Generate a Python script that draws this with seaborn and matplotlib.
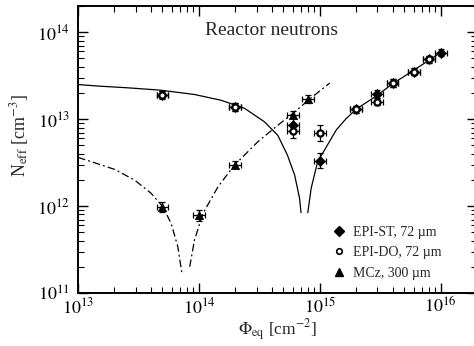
import numpy as np
import pandas as pd
import matplotlib
matplotlib.use("Agg")
import matplotlib.pyplot as plt
import seaborn as sns
from matplotlib.ticker import LogLocator, NullFormatter, FixedLocator
from matplotlib.lines import Line2D

# ---------------- data ----------------
st_phi = [5e13, 2e14, 6e14, 1e15, 2e15, 3e15, 4e15, 6e15, 8e15, 1e16]
st_neff = [1.9e13, 1.38e13, 8.5e12, 3.3e12, 1.29e13, 1.94e13, 2.6e13, 3.5e13, 4.9e13, 5.8e13]
st_yerr = [0.10, 0.10, 0.20, 0.22, 0.10, 0.10, 0.10, 0.10, 0.10, 0.10]

do_phi = [5e13, 2e14, 6e14, 1e15, 2e15, 3e15, 4e15, 6e15, 8e15]
do_neff = [1.89e13, 1.38e13, 7.3e12, 6.9e12, 1.29e13, 1.58e13, 2.6e13, 3.5e13, 4.9e13]
do_yerr = [0.10, 0.10, 0.20, 0.23, 0.10, 0.10, 0.10, 0.10, 0.10]

mcz_phi = [5e13, 1e14, 2e14, 6e14, 8e14]
mcz_neff = [9.8e11, 7.8e11, 3.0e12, 1.13e13, 1.7e13]
mcz_yerr = [0.15, 0.15, 0.10, 0.10, 0.10]

xerr_rel = 0.12

# fit curve for EPI (solid), two branches around the sign inversion
epi_fit_a_phi = [1e13, 1.46e13, 2.6e13, 4.85e13, 9.2e13, 1.52e14, 2.39e14, 3.49e14,
                 4.5e14, 5.4e14, 6.2e14, 6.8e14, 7.0e14]
epi_fit_a_neff = [2.5e13, 2.4e13, 2.29e13, 2.15e13, 1.92e13, 1.65e13, 1.33e13, 9.3e12,
                  6.5e12, 3.86e12, 2.27e12, 1.24e12, 8.4e11]
epi_fit_b_phi = [7.96e14, 8.5e14, 9.6e14, 1.37e15, 1.66e15, 2e15, 3e15, 4e15, 6e15, 8e15, 1.05e16]
epi_fit_b_neff = [8.4e11, 1.61e12, 3.23e12, 7.5e12, 1.02e13, 1.3e13, 1.88e13, 2.55e13,
                  3.65e13, 4.75e13, 6.1e13]

# fit curve for MCz (dash-dot), two branches
mcz_fit_a_phi = [1e13, 1.37e13, 2.01e13, 2.94e13, 4.03e13, 5.04e13, 5.9e13, 6.7e13, 7.24e13]
mcz_fit_a_neff = [3.63e12, 3.15e12, 2.64e12, 1.99e12, 1.4e12, 9.8e11, 6.3e11, 3.4e11, 1.68e11]
mcz_fit_b_phi = [8.4e13, 9.2e13, 1.08e14, 1.44e14, 1.97e14, 3.08e14, 4.5e14, 6.2e14, 8.5e14, 1.21e15]
mcz_fit_b_neff = [2.0e11, 4.07e11, 8.2e11, 1.67e12, 2.96e12, 5.5e12, 8.5e12, 1.21e13, 1.76e13, 2.6e13]

labels = ["EPI-ST, 72 \u00b5m", "EPI-DO, 72 \u00b5m", "MCz, 300 \u00b5m"]

# ---------------- style ----------------
sns.set_theme(style="ticks")
plt.rcParams["font.family"] = ["Liberation Serif", "DejaVu Serif"]
plt.rcParams["mathtext.fontset"] = "stix"

fig = plt.figure(figsize=(4.74, 3.46), dpi=100)
ax = fig.add_axes([78 / 474, 53 / 346, 399 / 474, 287 / 346])
ax.set_xscale("log")
ax.set_yscale("log")

# curves
for px, py in [(epi_fit_a_phi, epi_fit_a_neff), (epi_fit_b_phi, epi_fit_b_neff)]:
    sns.lineplot(x=px, y=py, ax=ax, color="black", lw=0.9, sort=False, estimator=None)
for px, py in [(mcz_fit_a_phi, mcz_fit_a_neff), (mcz_fit_b_phi, mcz_fit_b_neff)]:
    l = sns.lineplot(x=px, y=py, ax=ax, color="black", lw=0.9, sort=False, estimator=None)
    l.lines[-1].set_dashes([6, 2.5, 1.5, 2.5])


def errs(phi, neff, rel):
    phi = np.array(phi); neff = np.array(neff); rel = np.array(rel)
    xe = [phi - phi / (1 + xerr_rel), phi * xerr_rel]
    ye = [neff - neff / (1 + rel), neff * rel]
    return xe, ye


for phi, neff, rel in [(st_phi, st_neff, st_yerr), (do_phi, do_neff, do_yerr), (mcz_phi, mcz_neff, mcz_yerr)]:
    xe, ye = errs(phi, neff, rel)
    ax.errorbar(phi, neff, xerr=xe, yerr=ye, fmt="none", ecolor="black",
                elinewidth=0.9, capsize=2.2, capthick=0.9, zorder=3)

sns.scatterplot(x=st_phi, y=st_neff, ax=ax, marker="D", s=26, color="black",
                edgecolor="black", linewidth=0.5, zorder=4)
sns.scatterplot(x=do_phi, y=do_neff, ax=ax, marker="o", s=20, facecolor="white",
                edgecolor="black", linewidth=1.6, zorder=5)
sns.scatterplot(x=mcz_phi, y=mcz_neff, ax=ax, marker="^", s=36, color="black",
                edgecolor="black", linewidth=0.5, zorder=4)

ax.set_xlim(1e13, 2e16)
ax.set_ylim(1e11, 2e14)

ax.xaxis.set_major_locator(FixedLocator([1e13, 1e14, 1e15, 1e16]))
ax.yaxis.set_major_locator(FixedLocator([1e11, 1e12, 1e13, 1e14]))
ax.xaxis.set_minor_locator(LogLocator(base=10, subs=np.arange(2, 10), numticks=20))
ax.yaxis.set_minor_locator(LogLocator(base=10, subs=np.arange(2, 10), numticks=20))
ax.xaxis.set_minor_formatter(NullFormatter())
ax.yaxis.set_minor_formatter(NullFormatter())
ax.set_xticklabels([r"$10^{13}$", r"$10^{14}$", r"$10^{15}$", r"$10^{16}$"])
ax.set_yticklabels([r"$10^{11}$", r"$10^{12}$", r"$10^{13}$", r"$10^{14}$"])

ax.tick_params(which="both", direction="in", top=True, right=True, colors="black")
ax.tick_params(which="major", length=7, width=1.0, labelsize=13)
ax.tick_params(axis="y", which="major", pad=6)
ax.tick_params(axis="x", which="major", pad=3)
ax.tick_params(which="minor", length=4, width=0.8)
for sp in ax.spines.values():
    sp.set_linewidth(1.4)
    sp.set_color("black")

ax.set_xlabel(r"$\Phi_{\rm eq}$ [cm$^{-2}$]", fontsize=12.5, labelpad=0)
ax.set_ylabel(r"N$_{\rm eff}$ [cm$^{-3}$]", fontsize=13)
ax.yaxis.set_label_coords(-0.118, 0.55)

ax.text(0.486, 0.916, "Reactor neutrons", transform=ax.transAxes, ha="center",
        va="center", fontsize=14)

handles = [
    Line2D([], [], ls="none", marker="D", ms=5, color="black"),
    Line2D([], [], ls="none", marker="o", ms=4, mfc="white", mec="black", mew=1.2),
    Line2D([], [], ls="none", marker="^", ms=6, color="black"),
]
ax.legend(handles, labels, loc="center left", bbox_to_anchor=(0.637, 0.14),
          frameon=False, fontsize=10, handlelength=1.0, handletextpad=0.5,
          borderpad=0, borderaxespad=0, labelspacing=0.55)

fig.savefig("out.png", dpi=100)
